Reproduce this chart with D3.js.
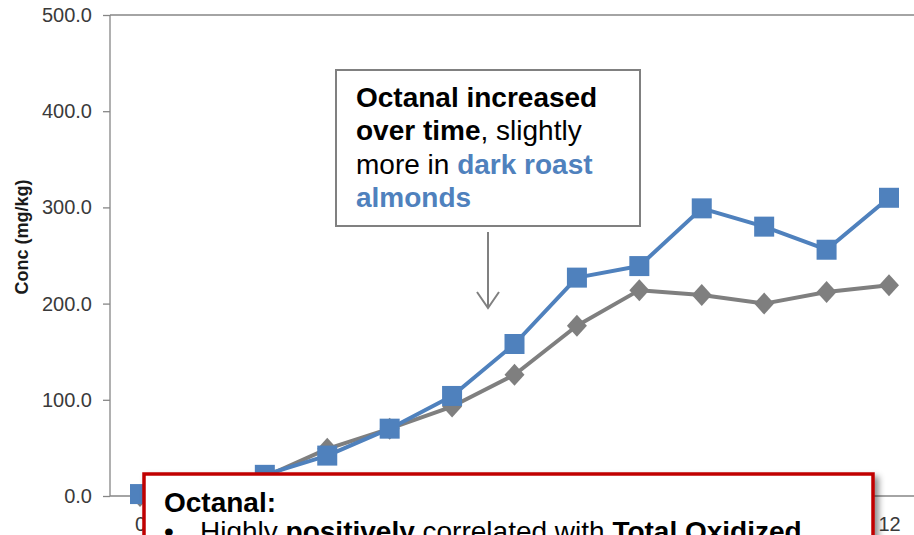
<!DOCTYPE html>
<html>
<head>
<meta charset="utf-8">
<script src="https://cdn.jsdelivr.net/npm/d3@7"></script>
<style>
  html, body { margin: 0; padding: 0; background: #fff; overflow: hidden; }
  svg { display: block; }
</style>
</head>
<body>
<svg id="chart" width="914" height="535"></svg>
<script>
// ---- Data ----
const months = [0, 1, 2, 3, 4, 5, 6, 7, 8, 9, 10, 11, 12];
const darkRoast = [2, 10, 22, 42, 70, 104, 158, 227, 239, 299, 280, 256, 310];
const regularRoast = [0, 8, 20, 49, 70, 93, 126, 177, 214, 209, 200, 212, 219];
const yTicks = [0, 100, 200, 300, 400, 500];
const xTickLabels = [0, 12]; // only these are visible; the rest sit under the note box
const yTitle = "Conc (mg/kg)";
const calloutLines = [
  [{t: "Octanal increased", b: true}],
  [{t: "over time", b: true}, {t: ", slightly"}],
  [{t: "more in "}, {t: "dark roast", b: true, blue: true}],
  [{t: "almonds", b: true, blue: true}]
];
const noteTitle = "Octanal:";
const noteBullet = [
  {t: "Highly "}, {t: "positively", b: true}, {t: " correlated with "}, {t: "Total Oxidized", b: true}
];

// ---- Styling ----
const BLUE = "#4f81bd", GRAY = "#7f7f7f", AXIS = "#868686", RED = "#c00000";
const FONT = "Liberation Sans, Arial, sans-serif";
const svg = d3.select("#chart");
const defs = svg.append("defs");
const f = defs.append("filter").attr("id", "shadow").attr("x", "-10%").attr("y", "-10%").attr("width", "130%").attr("height", "140%");
f.append("feDropShadow").attr("dx", 4).attr("dy", 4).attr("stdDeviation", 3).attr("flood-color", "#000").attr("flood-opacity", 0.45);

const x = d3.scalePoint().domain(months).range([140, 889]);
const y = d3.scaleLinear().domain([0, 500]).range([496, 15]);
const plotLeft = 110, plotRight = 914;

// Y axis
const yAxis = svg.append("g").attr("transform", `translate(${plotLeft},0)`)
  .call(d3.axisLeft(y).tickValues(yTicks).tickFormat(d3.format(".1f")).tickSize(7).tickPadding(11));
yAxis.select(".domain").remove();
yAxis.selectAll(".tick line").attr("stroke", AXIS).attr("stroke-width", 1.3);
yAxis.selectAll(".tick text").attr("font-family", FONT).attr("font-size", 20).attr("fill", "#3a3a3a");
svg.append("line").attr("x1", plotLeft).attr("x2", plotLeft).attr("y1", y(500)).attr("y2", y(0)).attr("stroke", AXIS).attr("stroke-width", 1.3);
svg.append("line").attr("x1", plotLeft).attr("x2", plotRight).attr("y1", y(500)).attr("y2", y(500)).attr("stroke", AXIS).attr("stroke-width", 1.3);

// X axis
const xAxis = svg.append("g").attr("transform", `translate(0,${y(0)})`)
  .call(d3.axisBottom(x).tickValues(xTickLabels).tickSize(0).tickPadding(21));
xAxis.select(".domain").remove();
xAxis.selectAll(".tick text").attr("font-family", FONT).attr("font-size", 20).attr("fill", "#3a3a3a");
svg.append("line").attr("x1", plotLeft).attr("x2", plotRight).attr("y1", y(0)).attr("y2", y(0)).attr("stroke", AXIS).attr("stroke-width", 1.3);

// Y title
svg.append("text").attr("transform", `translate(28,237) rotate(-90)`)
  .attr("text-anchor", "middle").attr("font-family", FONT)
  .attr("font-weight", "bold").attr("font-size", 18).attr("fill", "#1a1a1a").text(yTitle);

// Series
const line = d3.line().x((d, i) => x(months[i])).y(d => y(d));
svg.append("path").datum(regularRoast).attr("d", line).attr("fill", "none").attr("stroke", GRAY).attr("stroke-width", 4).attr("stroke-linejoin", "round");
svg.append("g").selectAll("path").data(regularRoast).join("path")
  .attr("transform", (d, i) => `translate(${x(months[i])},${y(d)})`)
  .attr("d", "M0,-11L10,0L0,11L-10,0Z").attr("fill", GRAY);
svg.append("path").datum(darkRoast).attr("d", line).attr("fill", "none").attr("stroke", BLUE).attr("stroke-width", 4).attr("stroke-linejoin", "round");
svg.append("g").selectAll("rect").data(darkRoast).join("rect")
  .attr("x", (d, i) => x(months[i]) - 10).attr("y", d => y(d) - 10)
  .attr("width", 20).attr("height", 20).attr("fill", BLUE);

// Callout box + arrow
svg.append("rect").attr("x", 336).attr("y", 70).attr("width", 304).attr("height", 156)
  .attr("fill", "#fff").attr("stroke", "#808080").attr("stroke-width", 2);
const ct = svg.append("text").attr("font-family", FONT).attr("font-size", 28);
calloutLines.forEach((ln, li) => {
  ln.forEach((seg, si) => {
    const ts = ct.append("tspan").text(seg.t)
      .attr("font-weight", seg.b ? "bold" : "normal")
      .attr("fill", seg.blue ? BLUE : "#000");
    if (si === 0) ts.attr("x", 356).attr("y", 107 + li * 33.3);
  });
});
svg.append("line").attr("x1", 488).attr("x2", 488).attr("y1", 232).attr("y2", 307).attr("stroke", "#808080").attr("stroke-width", 2);
svg.append("path").attr("d", "M477,292L488,308L499,292").attr("fill", "none").attr("stroke", "#808080").attr("stroke-width", 2);

// Red note box
svg.append("rect").attr("x", 144).attr("y", 474).attr("width", 729).attr("height", 120)
  .attr("fill", "#fff").attr("stroke", RED).attr("stroke-width", 3.5).attr("filter", "url(#shadow)");
svg.append("text").attr("x", 164).attr("y", 512).attr("font-family", FONT)
  .attr("font-size", 28).attr("font-weight", "bold").attr("fill", "#000").text(noteTitle);
svg.append("text").attr("x", 164).attr("y", 541).attr("font-family", FONT)
  .attr("font-size", 28).attr("fill", "#000").text("\u2022");
const nb = svg.append("text").attr("x", 200).attr("y", 541).attr("font-family", FONT).attr("font-size", 28).attr("fill", "#000");
noteBullet.forEach(seg => nb.append("tspan").text(seg.t).attr("font-weight", seg.b ? "bold" : "normal"));
</script>
</body>
</html>
